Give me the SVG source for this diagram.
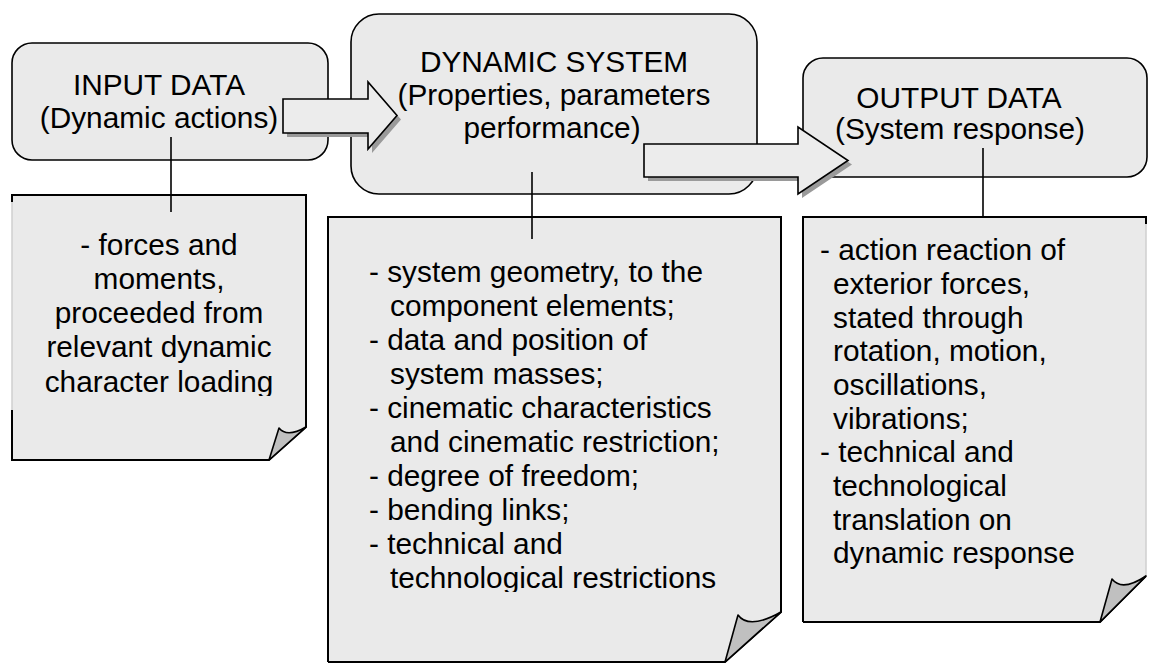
<svg xmlns="http://www.w3.org/2000/svg" width="1149" height="664" viewBox="0 0 1149 664">
  <style>
    .box { fill: #eaeaea; stroke: #000; stroke-width: 1.6; }
    .doc { fill: #eaeaea; stroke: none; }
    .edge { fill: none; stroke: #000; stroke-width: 2; }
    .faint { fill: none; stroke: #cfcfcf; stroke-width: 1.5; }
    .flap { fill: #c0c0c0; stroke: #000; stroke-width: 1.6; stroke-linejoin: round; }
    .arrow { fill: #ececec; stroke: #000; stroke-width: 1.6; stroke-linejoin: miter; }
    .shadow { fill: #9a9a9a; }
    .link { stroke: #000; stroke-width: 1.6; fill: none; }
    text { font-family: "Liberation Sans", Arial, sans-serif; font-size: 29.8px; fill: #000; }
    .c { text-anchor: middle; }
  </style>
  <defs>
    <clipPath id="clipInput"><rect x="12" y="195" width="294" height="201"/></clipPath>
    <clipPath id="clipSystem"><rect x="328" y="217" width="453" height="375"/></clipPath>
  </defs>

  <!-- detail sheets (folded corner) -->
  <g id="input-details">
    <path class="doc" d="M12,195 H306 V427 L269,460 H12 Z"/>
    <path class="faint" d="M12,201 V410"/>
    <path class="edge" d="M12,202 V195 H306 V427 L269,460 H12 V410"/>
    <path class="flap" d="M269,460 L279,428 Q287,438 306,427 Z"/>
    <g class="c" clip-path="url(#clipInput)">
      <text x="159" y="255">- forces and</text>
      <text x="159" y="289">moments,</text>
      <text x="159" y="323">proceeded from</text>
      <text x="159" y="357">relevant dynamic</text>
      <text x="159" y="392">character loading</text>
    </g>
  </g>

  <g id="system-details">
    <path class="doc" d="M328,217 H781 V612 L725,662 H328 Z"/>
    <path class="edge" d="M328,662 V217 H781 V612 L725,662 H328"/>
    <path class="flap" d="M725,662 L738,615 Q749,630 781,612 Z"/>
    <g clip-path="url(#clipSystem)">
      <text x="369" y="282">- system geometry, to the</text>
      <text x="390" y="316">component elements;</text>
      <text x="369" y="350">- data and position of</text>
      <text x="390" y="384">system masses;</text>
      <text x="369" y="418">- cinematic characteristics</text>
      <text x="390" y="452">and cinematic restriction;</text>
      <text x="369" y="486">- degree of freedom;</text>
      <text x="369" y="520">- bending links;</text>
      <text x="369" y="554">- technical and</text>
      <text x="390" y="588">technological restrictions</text>
    </g>
  </g>

  <g id="output-details">
    <path class="doc" d="M803,217 H1146 V576 L1100,622 H803 Z"/>
    <path class="faint" d="M1146,224 V576"/>
    <path class="edge" d="M803,622 V217 H1146 V224 M1146,576 L1100,622 H803"/>
    <path class="flap" d="M1100,622 L1112,579 Q1122,592 1146,576 Z"/>
    <text x="820" y="260">- action reaction of</text>
    <text x="833" y="294">exterior forces,</text>
    <text x="833" y="328">stated through</text>
    <text x="833" y="361">rotation, motion,</text>
    <text x="833" y="395">oscillations,</text>
    <text x="833" y="429">vibrations;</text>
    <text x="820" y="462">- technical and</text>
    <text x="833" y="496">technological</text>
    <text x="833" y="530">translation on</text>
    <text x="833" y="563">dynamic response</text>
  </g>

  <!-- main blocks -->
  <g id="input-data">
    <rect class="box" x="12" y="43" width="316" height="117" rx="20" ry="20"/>
    <text class="c" x="159" y="95">INPUT DATA</text>
    <text class="c" x="159" y="128">(Dynamic actions)</text>
  </g>

  <g id="dynamic-system">
    <rect class="box" x="351" y="14" width="406" height="180" rx="28" ry="28"/>
    <text class="c" x="554" y="72">DYNAMIC SYSTEM</text>
    <text class="c" x="554" y="105">(Properties, parameters</text>
    <text class="c" x="552" y="138">performance)</text>
  </g>

  <g id="output-data">
    <rect class="box" x="803" y="58" width="344" height="119" rx="20" ry="20"/>
    <text class="c" x="959" y="108">OUTPUT DATA</text>
    <text class="c" x="960" y="139">(System response)</text>
  </g>

  <!-- connectors -->
  <g id="connectors">
    <line class="link" x1="171" y1="137" x2="171" y2="212"/>
    <line class="link" x1="532" y1="172" x2="532" y2="239"/>
    <line class="link" x1="983" y1="148" x2="983" y2="217"/>

    <g id="arrow-input-system">
      <polygon class="shadow" transform="translate(4,4)" points="283,99 368,99 368,82 397,115.5 368,149 368,133 283,133"/>
      <polygon class="arrow" points="283,99 368,99 368,82 397,115.5 368,149 368,133 283,133"/>
    </g>
    <g id="arrow-system-output">
      <polygon class="shadow" transform="translate(4,4)" points="644,144 798,144 798,127 848,160.5 798,194 798,177 644,177"/>
      <polygon class="arrow" points="644,144 798,144 798,127 848,160.5 798,194 798,177 644,177"/>
    </g>
  </g>
</svg>
